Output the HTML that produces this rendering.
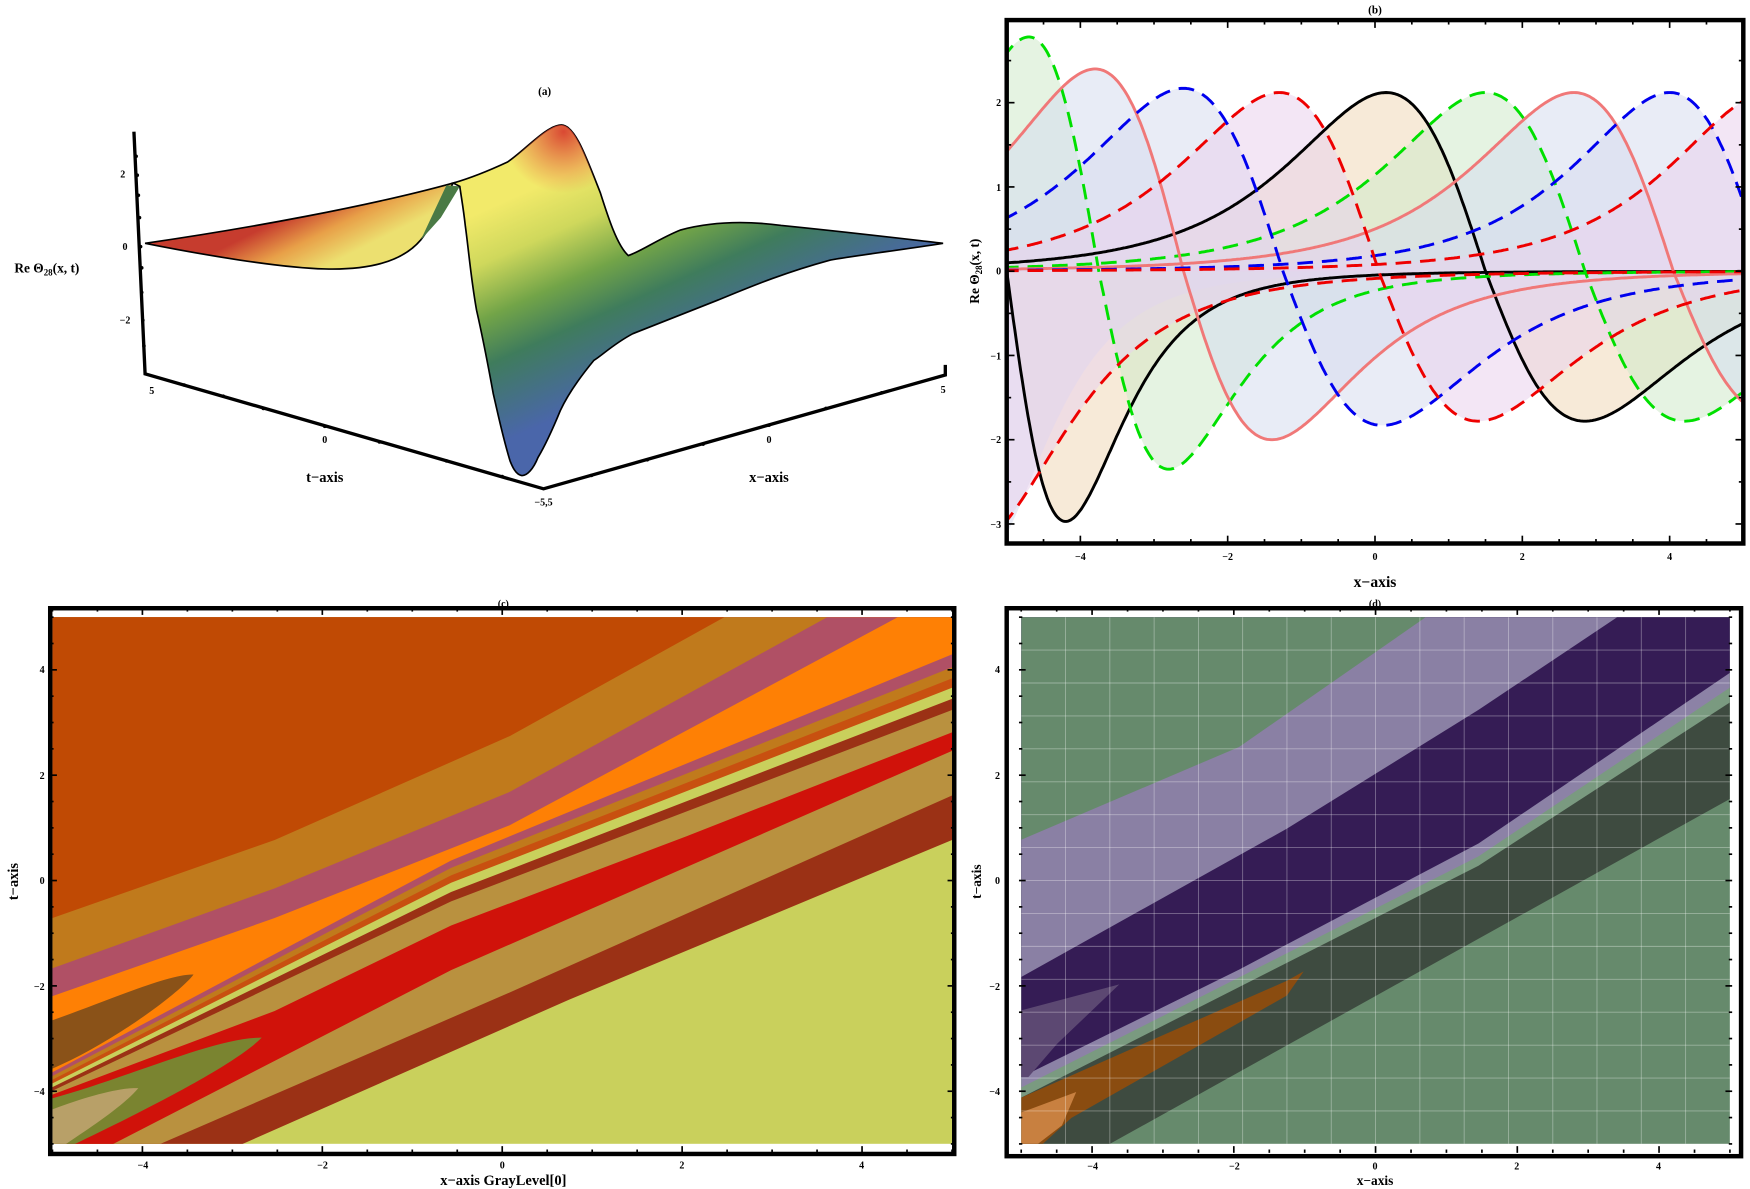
<!DOCTYPE html>
<html><head><meta charset="utf-8">
<style>
html,body{margin:0;padding:0;background:#fff;}
svg{display:block;}
text{font-family:"Liberation Serif",serif;font-weight:bold;fill:#000;}
</style></head>
<body>
<svg id="s" xmlns="http://www.w3.org/2000/svg" width="1750" height="1189" viewBox="0 0 1568 1065.4" preserveAspectRatio="none">
<defs>
<linearGradient id="gw" gradientUnits="userSpaceOnUse" x1="260" y1="192" x2="285" y2="242">
<stop offset="0" stop-color="#c63c2e"/><stop offset="0.5" stop-color="#e8a048"/><stop offset="1" stop-color="#ece070"/></linearGradient>
<linearGradient id="gm" gradientUnits="userSpaceOnUse" x1="520" y1="150" x2="600" y2="330">
<stop offset="0" stop-color="#f2ea6a"/><stop offset="0.22" stop-color="#cfd85c"/><stop offset="0.45" stop-color="#72a448"/><stop offset="0.65" stop-color="#3f7c5c"/><stop offset="1" stop-color="#4a66aa"/></linearGradient>
<radialGradient id="gr" gradientUnits="userSpaceOnUse" cx="505" cy="118" r="55">
<stop offset="0" stop-color="#d84030" stop-opacity="0.95"/><stop offset="1" stop-color="#e86040" stop-opacity="0"/></radialGradient>
<clipPath id="cb"><rect x="902" y="18" width="660" height="469"/></clipPath>
<clipPath id="cc"><rect x="47" y="553" width="806" height="472"/></clipPath>
<clipPath id="cd"><rect x="915" y="553" width="635" height="472"/></clipPath>
</defs>

<!-- Panel (a) -->
<text x="488" y="85" font-size="10" text-anchor="middle">(a)</text>
<path d="M130,218 C220,205 330,185 406,164 C395,185 385,205 377,215 C360,235 330,242 291,241 C250,240 180,228 130,218 Z" fill="url(#gw)" stroke="#000" stroke-width="1.5"/>
<path d="M400,166 L412,167 L395,195 L377,215 Z" fill="#4a7a45"/>
<path id="mainA" d="M406,164 C420,160 440,152 455,145 C470,135 490,112 503,112 C515,112 525,140 538,173 C545,195 553,220 563,229 C575,225 590,214 610,206 C640,198 670,198 700,202 C760,208 810,214 845,218 C800,225 760,230 744,233 C700,245 670,258 643,269 C610,282 585,292 567,299 C550,308 540,318 532,323 C518,340 508,355 502,368 C495,385 488,400 482,410 C478,420 472,427 467,426 C462,425 459,418 457,413 C450,390 446,370 442,353 C436,320 432,300 427,278 C422,250 420,225 417,203 C415,185 413,175 412,167 Z" fill="url(#gm)" stroke="#000" stroke-width="1.5"/>
<path d="M406,164 C420,160 440,152 455,145 C470,135 490,112 503,112 C515,112 525,140 538,173 C545,195 553,220 563,229 L520,230 L430,200 Z" fill="url(#gr)"/>
<g stroke="#000" stroke-width="3" fill="none">
<path d="M120,118 L130,335 L487,438 L847,336 L847,327"/>
</g>
<g fill="#000">
<circle cx="122" cy="140" r="1.6"/><circle cx="123" cy="157" r="1.6"/><circle cx="124" cy="175" r="1.6"/><circle cx="125" cy="195" r="1.6"/><circle cx="126" cy="221" r="1.6"/><circle cx="127" cy="240" r="1.6"/><circle cx="127" cy="262" r="1.6"/><circle cx="128" cy="287" r="1.6"/><circle cx="129" cy="310" r="1.6"/>
<circle cx="165" cy="345" r="1.6"/><circle cx="200" cy="355" r="1.6"/><circle cx="236" cy="366" r="1.6"/><circle cx="291" cy="382" r="1.6"/><circle cx="340" cy="396" r="1.6"/><circle cx="400" cy="413" r="1.6"/><circle cx="450" cy="427" r="1.6"/>
<circle cx="530" cy="426" r="1.6"/><circle cx="580" cy="412" r="1.6"/><circle cx="630" cy="398" r="1.6"/><circle cx="689" cy="381" r="1.6"/><circle cx="740" cy="366" r="1.6"/><circle cx="790" cy="352" r="1.6"/>
</g>
<g font-size="9" text-anchor="middle">
<text x="110" y="159">2</text><text x="112" y="224">0</text><text x="112" y="290">−2</text>
<text x="136" y="353">5</text><text x="291" y="397">0</text><text x="487" y="453">−5,5</text><text x="689" y="397">0</text><text x="845" y="352">5</text>
</g>
<text x="291" y="432" font-size="13" text-anchor="middle">t−axis</text>
<text x="689" y="432" font-size="13" text-anchor="middle">x−axis</text>
<text x="42" y="244" font-size="12" text-anchor="middle">Re Θ<tspan font-size="8" dy="3">28</tspan><tspan dy="-3">(x, t)</tspan></text>

<!-- Panel (b) -->
<text x="1232" y="12" font-size="10" text-anchor="middle">(b)</text>
<g id="bcurves" clip-path="url(#cb)"></g>
<rect x="902" y="18" width="660" height="469" fill="none" stroke="#000" stroke-width="4"/>
<g id="bticks" stroke="#000" stroke-width="1.5"></g>
<g font-size="9" text-anchor="middle">
<text x="968" y="502">−4</text><text x="1100" y="502">−2</text><text x="1232" y="502">0</text><text x="1364" y="502">2</text><text x="1496" y="502">4</text>
</g>
<g font-size="9" text-anchor="end">
<text x="897" y="95">2</text><text x="897" y="171">1</text><text x="897" y="246">0</text><text x="897" y="322">−1</text><text x="897" y="397">−2</text><text x="897" y="473">−3</text>
</g>
<text x="1232" y="526" font-size="14" text-anchor="middle">x−axis</text>
<text transform="translate(877,243) rotate(-90)" font-size="12" text-anchor="middle">Re Θ<tspan font-size="8" dy="3">28</tspan><tspan dy="-3">(x, t)</tspan></text>

<!-- Panel (c) -->
<text x="451" y="544" font-size="9" text-anchor="middle">(c)</text>
<g id="cbands" clip-path="url(#cc)"></g>
<rect x="45" y="545" width="810" height="489" fill="none" stroke="#000" stroke-width="4"/>
<g id="cticks" stroke="#000" stroke-width="1.5"></g>
<g font-size="9" text-anchor="middle">
<text x="128" y="1047">−4</text><text x="289" y="1047">−2</text><text x="450" y="1047">0</text><text x="611" y="1047">2</text><text x="772" y="1047">4</text>
</g>
<g font-size="9" text-anchor="end">
<text x="40" y="603">4</text><text x="40" y="698">2</text><text x="40" y="792">0</text><text x="40" y="887">−2</text><text x="40" y="981">−4</text>
</g>
<text x="451" y="1062" font-size="13" text-anchor="middle">x−axis GrayLevel[0]</text>
<text transform="translate(16,790) rotate(-90)" font-size="13" text-anchor="middle">t−axis</text>

<!-- Panel (d) -->
<text x="1232" y="544" font-size="9" text-anchor="middle">(d)</text>
<g id="dbands" clip-path="url(#cd)"></g>
<rect x="902" y="545" width="658" height="491" fill="none" stroke="#000" stroke-width="4"/>
<g id="dticks" stroke="#000" stroke-width="1.5"></g>
<g font-size="9" text-anchor="middle">
<text x="979" y="1048">−4</text><text x="1106" y="1048">−2</text><text x="1232" y="1048">0</text><text x="1359" y="1048">2</text><text x="1486" y="1048">4</text>
</g>
<g font-size="9" text-anchor="end">
<text x="896" y="603">4</text><text x="896" y="698">2</text><text x="896" y="792">0</text><text x="896" y="887">−2</text><text x="896" y="981">−4</text>
</g>
<text x="1232" y="1062" font-size="12" text-anchor="middle">x−axis</text>
<text transform="translate(879,790) rotate(-90)" font-size="12" text-anchor="middle">t−axis</text>
</svg>

<script>
(function(){
function f(n){return n.toFixed(1);}
// ---------- Panel b ----------
var X=function(x){return 902+(x+5)*66;}, Y=function(y){return 243-y*75.5;};
var P=3, US=1/Math.sqrt(2*P-1), NORM=US/Math.pow(1+US*US,P);
function shape(x,c){var xp=c[0],yp=c[1],xm=c[2],ym=c[3];var cc=(xp+xm)/2,h=(xm-xp)/2,w=h/US;var u=(x-cc)/w;var g=-u/Math.pow(1+u*u,P)/NORM;return g>0?g*yp:g*(-ym);}
var curves=[
 ['#000','',  '#f0d8b8',[0.15,2.12,2.85,-1.78],1],
 ['#000','',  '#f0d8b8',[-5.8,3.2,-4.2,-2.97],1],
 ['#00e000','14,8','#cfeacb',[-4.7,2.78,-2.8,-2.35],1],
 ['#00e000','14,8','#cfeacb',[1.5,2.12,4.2,-1.78],1],
 ['#f07878','', '#d5ddef',[-3.8,2.4,-1.4,-2.0],1],
 ['#f07878','', '#d5ddef',[2.7,2.12,5.4,-1.7],1],
 ['#0000ee','14,8','#d7dcee',[-2.6,2.17,0.1,-1.83],1],
 ['#0000ee','14,8','#d7dcee',[4.0,2.12,6.6,-1.75],1],
 ['#0000ee','14,8','#d7dcee',[-7.0,2.0,-5.3,-3.4],0],
 ['#ee0000','14,8','#ead2ec',[-1.3,2.12,1.4,-1.78],1],
 ['#ee0000','14,8','#ead2ec',[5.3,2.1,7.9,-1.75],1],
 ['#ee0000','14,8','#ead2ec',[-7.8,2.1,-5.4,-3.2],1]
];
var fills='',lines='';
curves.forEach(function(cv){
 var pts=[];for(var x=-5.05;x<=5.06;x+=0.02){pts.push(f(X(x))+','+f(Y(shape(x,cv[3]))));}
 fills+='<path d="M'+f(X(-5.05))+','+f(Y(0))+' L'+pts.join(' L')+' L'+f(X(5.05))+','+f(Y(0))+' Z" fill="'+cv[2]+'" fill-opacity="0.55"/>';
 if(cv[4]) lines+='<path d="M'+pts.join(' L')+'" fill="none" stroke="'+cv[0]+'" stroke-width="2.6"'+(cv[1]?' stroke-dasharray="'+cv[1]+'"':'')+'/>';
});
document.getElementById('bcurves').innerHTML=fills+lines;
var t='';
for(var x=-5;x<=5.01;x+=0.5){var len=(Math.abs(x%2)<0.01)?7:4;t+='<line x1="'+f(X(x))+'" y1="487" x2="'+f(X(x))+'" y2="'+(487-len)+'"/><line x1="'+f(X(x))+'" y1="18" x2="'+f(X(x))+'" y2="'+(18+len)+'"/>';}
for(var y=-3;y<=2.9;y+=0.5){var len2=(Math.abs(y%1)<0.01)?7:4;t+='<line x1="902" y1="'+f(Y(y))+'" x2="'+(902+len2)+'" y2="'+f(Y(y))+'"/><line x1="1562" y1="'+f(Y(y))+'" x2="'+(1562-len2)+'" y2="'+f(Y(y))+'"/>';}
document.getElementById('bticks').innerHTML=t;

// ---------- Panel c ----------
function cx(z){return 47+(z-22)*0.5268;} function cy(z){return 553+(z-50)*0.3329;}
function above(b,col,conv,L,T,R,B){
 var p=b.map(function(q){return f(conv[0](q[0]))+','+f(conv[1](q[1]));});
 var last=b[b.length-1],first=b[0];var extra=[];
 if(last[0]>=R-1) extra.push([R,T]);
 extra.push([L,T]);
 if(first[1]>=B-1) extra.push([L,B]);
 extra.forEach(function(q){p.push(f(conv[0](q[0]))+','+f(conv[1](q[1])));});
 return '<polygon points="'+p.join(' ')+'" fill="'+col+'"/>';
}
var cb=[
 [[[345,1468],[900,1080],[1552,650]],'#9b3115'],
 [[[205,1468],[800,1060],[1552,530]],'#b9913f'],
 [[[125,1468],[700,1000],[1552,410]],'#d0120a'],
 [[[22,1335],[400,1110],[700,880],[1100,640],[1552,360]],'#b9913f'],
 [[[22,1325],[700,815],[1552,300]],'#9b3115'],
 [[[22,1315],[700,790],[1552,270]],'#c9d05c'],
 [[[22,1305],[700,765],[1552,240]],'#c85010'],
 [[[22,1295],[700,745],[1552,215]],'#c07a1c'],
 [[[22,1285],[700,725],[1552,185]],'#b05065'],
 [[[22,1275],[700,705],[1552,150]],'#fe8005'],
 [[[22,1070],[400,860],[800,610],[1460,50]],'#b05065'],
 [[[22,995],[400,780],[800,520],[1340,50]],'#c07a1c'],
 [[[22,860],[400,650],[800,370],[1165,50]],'#c04a04']
];
var s='<rect x="47" y="553" width="806" height="472" fill="#c9d05c"/>';
cb.forEach(function(b){s+=above(b[0],b[1],[cx,cy],22,50,1552,1468);});
function pth(d,col){return '<path d="'+d.replace(/(-?\d+),(-?\d+)/g,function(m,a,b){return f(cx(+a))+','+f(cy(+b));})+'" fill="'+col+'"/>';}
s+=pth('M22,1135 C120,1080 220,1010 262,1012 C240,1060 120,1200 22,1265 Z','#8a5218');
s+=pth('M22,1345 C150,1290 300,1180 378,1182 C330,1260 150,1400 60,1468 L22,1468 Z','#7a8430');
s+=pth('M22,1375 C80,1340 140,1315 168,1318 C140,1370 80,1430 45,1468 L22,1468 Z','#b8a068');
document.getElementById('cbands').innerHTML=s;
function ticks(x0,x1,y0,y1,id){var o='';var w=x1-x0,h=y1-y0;
 for(var i=0;i<=20;i++){var xx=x0+w*i/20;var l=(i%4==2)?6:3;o+='<line x1="'+f(xx)+'" y1="'+(y1+8)+'" x2="'+f(xx)+'" y2="'+(y1+8-l)+'"/><line x1="'+f(xx)+'" y1="'+(y0-8)+'" x2="'+f(xx)+'" y2="'+(y0-8+l)+'"/>';}
 for(var j=0;j<=20;j++){var yy=y0+h*j/20;var l2=(j%4==2)?6:3;o+='<line x1="'+(x0-2)+'" y1="'+f(yy)+'" x2="'+(x0-2+l2)+'" y2="'+f(yy)+'"/><line x1="'+(x1+2)+'" y1="'+f(yy)+'" x2="'+(x1+2-l2)+'" y2="'+f(yy)+'"/>';}
 document.getElementById(id).innerHTML=o;}
ticks(47,853,553,1025,'cticks');

// ---------- Panel d ----------
function dx(z){return 915+(z-45)*0.429;} function dy(z){return 553+(z-50)*0.3324;}
var db=[
 [[[230,1470],[1000,917],[1525,540]],'#3e4b40'],
 [[[45,1345],[1000,720],[1525,280]],'#7a9a80'],
 [[[45,1318],[1000,695],[1525,240]],'#8c82a6'],
 [[[45,1290],[500,1000],[1000,660],[1525,200]],'#351c55'],
 [[[45,1020],[600,620],[1000,300],[1290,50]],'#8a80a4'],
 [[[45,650],[500,400],[890,50]],'#668a6c']
];
var d='<rect x="915" y="553" width="635" height="472" fill="#668a6c"/>';
db.forEach(function(b){d+=above(b[0],b[1],[dx,dy],45,50,1525,1470);});
function dp(pts,col){return '<polygon points="'+pts.map(function(q){return f(dx(q[0]))+','+f(dy(q[1]));}).join(' ')+'" fill="'+col+'"/>';}
d+=dp([[45,1110],[250,1040],[120,1200],[60,1290],[45,1290]],'#5c4872');
d+=dp([[45,1345],[300,1200],[600,1030],[635,1005],[600,1070],[300,1290],[150,1400],[90,1470],[45,1470]],'#8a4c10');
d+=dp([[45,1385],[160,1330],[130,1420],[80,1470],[45,1470]],'#c88040');
for(var i=1;i<16;i++){var xx=915+635*i/16,yy=553+472*i/16;d+='<line x1="'+f(xx)+'" y1="553" x2="'+f(xx)+'" y2="1025" stroke="#fff" stroke-opacity="0.35" stroke-width="0.8"/><line x1="915" y1="'+f(yy)+'" x2="1550" y2="'+f(yy)+'" stroke="#fff" stroke-opacity="0.35" stroke-width="0.8"/>';}
document.getElementById('dbands').innerHTML=d;
ticks(915,1550,553,1025,'dticks');
})();
</script>
</body></html>
